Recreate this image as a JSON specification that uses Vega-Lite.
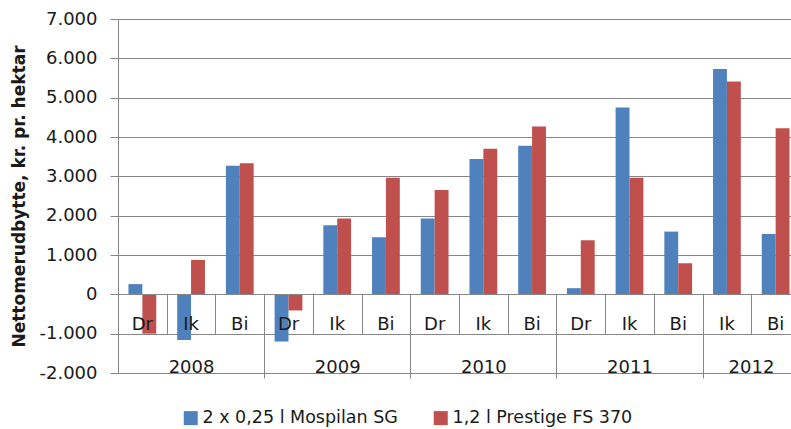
{
  "$schema": "https://vega.github.io/schema/vega-lite/v6.json",
  "width": 682,
  "height": 354,
  "autosize": {"type": "none"},
  "padding": {"left": 118, "top": 19, "right": 0, "bottom": 56},
  "background": "white",
  "config": {
    "locale": {"number": {"decimal": ",", "thousands": ".", "grouping": [3], "currency": ["", " kr."], "minus": "-"}},
    "font": "DejaVu Sans",
    "view": {"stroke": null},
    "axis": {"labelFont": "DejaVu Sans", "titleFont": "DejaVu Sans", "labelColor": "#1a1a1a", "titleColor": "#1a1a1a"}
  },
  "data": {
    "values": [
      {"cat": "2008|Dr", "series": "2 x 0,25 l Mospilan SG", "value": 260},
      {"cat": "2008|Dr", "series": "1,2 l Prestige FS 370", "value": -1000},
      {"cat": "2008|Ik", "series": "2 x 0,25 l Mospilan SG", "value": -1160},
      {"cat": "2008|Ik", "series": "1,2 l Prestige FS 370", "value": 875},
      {"cat": "2008|Bi", "series": "2 x 0,25 l Mospilan SG", "value": 3270},
      {"cat": "2008|Bi", "series": "1,2 l Prestige FS 370", "value": 3330},
      {"cat": "2009|Dr", "series": "2 x 0,25 l Mospilan SG", "value": -1200},
      {"cat": "2009|Dr", "series": "1,2 l Prestige FS 370", "value": -410},
      {"cat": "2009|Ik", "series": "2 x 0,25 l Mospilan SG", "value": 1755},
      {"cat": "2009|Ik", "series": "1,2 l Prestige FS 370", "value": 1925},
      {"cat": "2009|Bi", "series": "2 x 0,25 l Mospilan SG", "value": 1450},
      {"cat": "2009|Bi", "series": "1,2 l Prestige FS 370", "value": 2965},
      {"cat": "2010|Dr", "series": "2 x 0,25 l Mospilan SG", "value": 1925},
      {"cat": "2010|Dr", "series": "1,2 l Prestige FS 370", "value": 2650},
      {"cat": "2010|Ik", "series": "2 x 0,25 l Mospilan SG", "value": 3440},
      {"cat": "2010|Ik", "series": "1,2 l Prestige FS 370", "value": 3700},
      {"cat": "2010|Bi", "series": "2 x 0,25 l Mospilan SG", "value": 3777},
      {"cat": "2010|Bi", "series": "1,2 l Prestige FS 370", "value": 4270},
      {"cat": "2011|Dr", "series": "2 x 0,25 l Mospilan SG", "value": 157},
      {"cat": "2011|Dr", "series": "1,2 l Prestige FS 370", "value": 1375},
      {"cat": "2011|Ik", "series": "2 x 0,25 l Mospilan SG", "value": 4750},
      {"cat": "2011|Ik", "series": "1,2 l Prestige FS 370", "value": 2965},
      {"cat": "2011|Bi", "series": "2 x 0,25 l Mospilan SG", "value": 1595},
      {"cat": "2011|Bi", "series": "1,2 l Prestige FS 370", "value": 790},
      {"cat": "2012|Ik", "series": "2 x 0,25 l Mospilan SG", "value": 5730},
      {"cat": "2012|Ik", "series": "1,2 l Prestige FS 370", "value": 5410},
      {"cat": "2012|Bi", "series": "2 x 0,25 l Mospilan SG", "value": 1535},
      {"cat": "2012|Bi", "series": "1,2 l Prestige FS 370", "value": 4220}
    ]
  },
  "resolve": {"axis": {"x": "independent"}, "scale": {"x": "independent"}},
  "layer": [
    {
      "mark": {"type": "bar"},
      "encoding": {
        "x": {
          "field": "cat", "type": "nominal", "sort": null,
          "scale": {"paddingInner": 0.43, "paddingOuter": 0.215},
          "axis": {
            "orient": "bottom", "offset": -79, "title": null,
            "domain": true, "domainColor": "#868686", "domainWidth": 1,
            "ticks": false, "grid": false,
            "labelExpr": "split(datum.value, '|')[1]",
            "labelAngle": 0, "labelFontSize": 18, "labelPadding": 21,
            "zindex": 1
          }
        },
        "xOffset": {
          "field": "series", "type": "nominal",
          "sort": ["2 x 0,25 l Mospilan SG", "1,2 l Prestige FS 370"],
          "scale": {"paddingInner": 0, "paddingOuter": 0}
        },
        "y": {
          "field": "value", "type": "quantitative",
          "scale": {"domain": [-2000, 7000], "nice": false, "zero": false},
          "axis": {
            "values": [-2000, -1000, 0, 1000, 2000, 3000, 4000, 5000, 6000, 7000],
            "format": ",d",
            "grid": true, "gridColor": "#868686", "gridWidth": 1,
            "domain": true, "domainColor": "#868686", "domainWidth": 1,
            "ticks": true, "tickSize": 8, "tickColor": "#868686",
            "labelFontSize": 18, "labelPadding": 13,
            "title": "Nettomerudbytte, kr. pr. hektar",
            "titleFontSize": 17, "titleFontWeight": "bold", "titlePadding": 10
          }
        },
        "color": {
          "field": "series", "type": "nominal",
          "scale": {"domain": ["2 x 0,25 l Mospilan SG", "1,2 l Prestige FS 370"], "range": ["#4f81bd", "#c0504d"]},
          "legend": {
            "title": null, "orient": "none", "legendX": 64, "legendY": 390,
            "direction": "horizontal", "symbolType": "square", "symbolSize": 196,
            "symbolStrokeWidth": 0, "labelFontSize": 17.5, "labelFont": "DejaVu Sans",
            "labelColor": "#1a1a1a", "labelOffset": 3, "labelLimit": 0, "columnPadding": 34, "padding": 0
          }
        }
      }
    },
    {
      "mark": {"type": "text", "text": ""},
      "encoding": {
        "x": {
          "field": "cat", "type": "nominal", "sort": null,
          "scale": {"paddingInner": 0, "paddingOuter": 0},
          "axis": {
            "orient": "bottom", "offset": -79, "title": null,
            "domain": false, "labels": false, "grid": false,
            "ticks": true, "tickBand": "extent", "tickColor": "#868686", "tickWidth": 1,
            "tickSize": {"condition": {"test": "indexof(['2008|Bi','2009|Bi','2010|Bi','2011|Bi','2012|Bi'], datum.value) >= 0", "value": 84}, "value": 40}
          }
        }
      }
    },
    {
      "mark": {"type": "text", "text": ""},
      "encoding": {
        "x": {
          "field": "cat", "type": "nominal", "sort": null,
          "scale": {"paddingInner": 0, "paddingOuter": 0},
          "axis": {
            "orient": "bottom", "offset": -79, "title": null,
            "domain": false, "ticks": false, "grid": false,
            "labelExpr": "split(datum.value, '|')[1] == 'Ik' ? split(datum.value, '|')[0] : ''",
            "labelAngle": 0, "labelFontSize": 18, "labelPadding": 64,
            "labelOffset": {"condition": {"test": "datum.value == '2012|Ik'", "value": 24}, "value": 0},
            "zindex": 1
          }
        }
      }
    }
  ]
}
